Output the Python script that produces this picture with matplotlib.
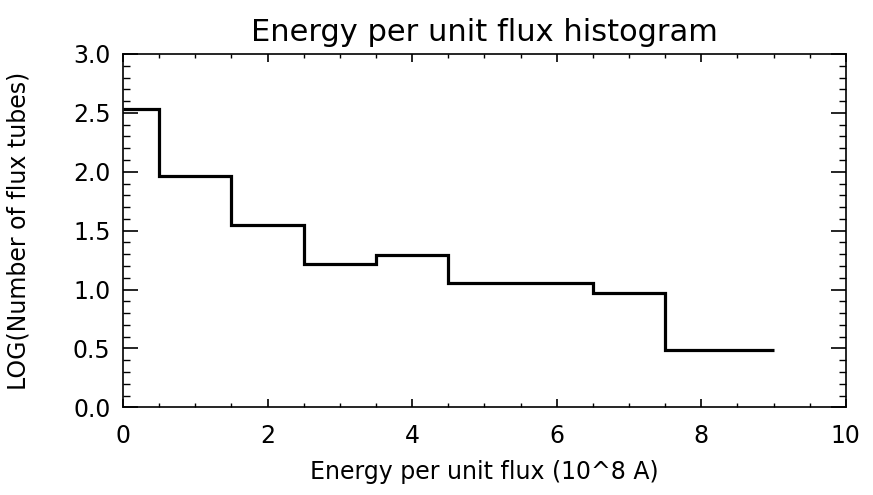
import numpy as np
import matplotlib
matplotlib.use('Agg')
import matplotlib.pyplot as plt
from matplotlib.ticker import MultipleLocator, FormatStrFormatter

# bin centres (10^8 A) and log10 of counts per bin
centers = [0, 1, 2, 3, 4, 5, 6, 7, 8, 9]
log_counts = [2.53, 1.965, 1.545, 1.22, 1.29, 1.055, 1.055, 0.97, 0.49, 0.49]

title = 'Energy per unit flux histogram'
xlabel = 'Energy per unit flux (10^8 A)'
ylabel = 'LOG(Number of flux tubes)'

# IDL psym=10 style: steps at midpoints, half bins at the ends
x = np.array(centers, dtype=float)
edges = np.concatenate([[x[0]], (x[:-1] + x[1:]) / 2, [x[-1]]])

fig = plt.figure(figsize=(8.73, 4.95), dpi=100)
ax = fig.add_axes([0.1409, 0.177, 0.828, 0.714])

ax.stairs(log_counts, edges, color='black', linewidth=2.3, baseline=None)

ax.set_xlim(0, 10)
ax.set_ylim(0, 3.0)
ax.xaxis.set_major_locator(MultipleLocator(2))
ax.xaxis.set_minor_locator(MultipleLocator(0.5))
ax.yaxis.set_major_locator(MultipleLocator(0.5))
ax.yaxis.set_minor_locator(MultipleLocator(0.1))
ax.yaxis.set_major_formatter(FormatStrFormatter('%.1f'))

ax.tick_params(axis='both', which='both', direction='in', top=True, right=True, color='black')
ax.tick_params(axis='x', which='major', length=5.5, width=1.2, labelsize=17, pad=12)
ax.tick_params(axis='x', which='minor', length=2.8, width=1.0)
ax.tick_params(axis='y', which='major', length=10.5, width=1.2, labelsize=17, pad=9)
ax.tick_params(axis='y', which='minor', length=5.3, width=1.0)
for s in ax.spines.values():
    s.set_linewidth(1.2)

ax.set_title(title, fontsize=22, pad=9)
ax.set_xlabel(xlabel, fontsize=17, va='center')
ax.set_ylabel(ylabel, fontsize=17, va='center')
ax.xaxis.set_label_coords(0.5, -0.184)
ax.yaxis.set_label_coords(-0.145, 0.5)

fig.savefig('out.png', dpi=100)
